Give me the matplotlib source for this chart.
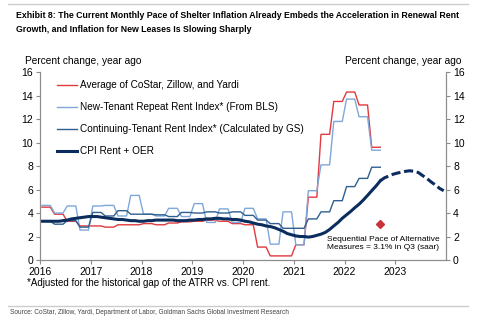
import numpy as np
import pandas as pd
import matplotlib
matplotlib.use("Agg")
import matplotlib.pyplot as plt
import matplotlib.dates as mdates

plt.rcParams['font.family'] = ['Liberation Sans', 'DejaVu Sans']

# quarterly series, 2016Q1 - 2022Q3 (each quarter held for its three months)
costar_zillow_yardi = [4.5, 3.9, 3.3, 2.9,
                       2.9, 2.8, 3.0, 3.0,
                       3.1, 3.0, 3.15, 3.25,
                       3.3, 3.4, 3.3, 3.1,
                       3.0, 1.1, 0.35, 0.35,
                       1.3, 5.35, 10.7, 13.5,
                       14.3, 13.2, 9.6]
new_tenant = [4.65, 4.0, 4.6, 2.55,
              4.6, 4.65, 3.75, 5.5,
              3.9, 3.75, 4.4, 3.7,
              4.8, 3.2, 4.35, 3.2,
              4.4, 3.5, 1.35, 4.1,
              1.3, 5.9, 8.1, 11.8,
              13.7, 12.2, 9.35]
continuing_tenant = [3.3, 3.05, 3.35, 2.8,
                     4.05, 3.75, 4.2, 3.9,
                     3.9, 3.85, 3.7, 4.05,
                     4.0, 4.1, 4.0, 4.1,
                     3.8, 3.4, 3.1, 2.7,
                     2.7, 3.5, 4.1, 5.05,
                     6.25, 6.95, 7.9]

# monthly CPI rent + OER, Jan 2016 - Sep 2022
cpi_rent_oer = [3.3, 3.3, 3.3, 3.3, 3.3, 3.35, 3.4, 3.5, 3.55, 3.6, 3.65, 3.7,
                3.7, 3.7, 3.65, 3.6, 3.55, 3.5, 3.45, 3.45, 3.4, 3.35, 3.35, 3.3,
                3.3, 3.35, 3.35, 3.4, 3.4, 3.4, 3.4, 3.4, 3.35, 3.35, 3.35, 3.4,
                3.4, 3.45, 3.45, 3.5, 3.5, 3.55, 3.55, 3.5, 3.5, 3.45, 3.45, 3.4,
                3.3, 3.25, 3.15, 3.05, 3.0, 2.9, 2.85, 2.75, 2.6, 2.45, 2.25, 2.15,
                2.05, 2.0, 2.0, 1.95, 2.0, 2.1, 2.2, 2.35, 2.6, 2.9, 3.2, 3.55,
                3.85, 4.15, 4.45, 4.75, 5.1, 5.5, 5.9, 6.3, 6.75]
# GS forecast, Sep 2022 - Dec 2023
cpi_forecast = [6.75, 7.0, 7.15, 7.3, 7.4, 7.48, 7.55, 7.6, 7.55, 7.45,
                7.2, 6.95, 6.65, 6.4, 6.1, 5.9]
alt_q3 = 3.1

months = pd.date_range('2016-01-01', periods=len(cpi_rent_oer), freq='MS') + pd.Timedelta(days=14)
fc_months = pd.date_range('2022-09-01', periods=len(cpi_forecast), freq='MS') + pd.Timedelta(days=14)

fig = plt.figure(figsize=(4.8, 3.24), dpi=100)
ax = fig.add_axes([0.0833, 0.1975, 0.846, 0.580])

ax.plot(months, np.repeat(costar_zillow_yardi, 3), color='#e0393e', lw=1.0,
        label='Average of CoStar, Zillow, and Yardi')
ax.plot(months, np.repeat(new_tenant, 3), color='#7fa7d9', lw=1.0,
        label='New-Tenant Repeat Rent Index* (From BLS)')
ax.plot(months, np.repeat(continuing_tenant, 3), color='#2f5f8f', lw=1.0,
        label='Continuing-Tenant Rent Index* (Calculated by GS)')
ax.plot(months, cpi_rent_oer, color='#0b2d5e', lw=2.2, label='CPI Rent + OER')
ax.plot(fc_months, cpi_forecast, color='#0b2d5e', lw=2.2, ls=(0, (3.0, 1.2)))
ax.plot([pd.Timestamp('2022-09-15')], [alt_q3], marker='D', color='#c8333a',
        ms=4.5, ls='none')

ax.text(pd.Timestamp('2021-08-25'), 2.05,
        'Sequential Pace of Alternative\nMeasures = 3.1% in Q3 (saar)',
        fontsize=6.0, va='top', ha='left', linespacing=1.15)

ax.set_xlim(pd.Timestamp('2016-01-01'), pd.Timestamp('2024-01-01'))
ax.set_ylim(0, 16)
ax.set_yticks(range(0, 17, 2))
ax.set_xticks([pd.Timestamp(f'{y}-01-01') for y in range(2016, 2024)])
ax.xaxis.set_major_formatter(mdates.DateFormatter('%Y'))

ax2 = ax.twinx()
ax2.set_ylim(0, 16)
ax2.set_yticks(range(0, 17, 2))

for a in (ax, ax2):
    a.spines['top'].set_visible(False)
    for s in ('left', 'right', 'bottom'):
        a.spines[s].set_color('#8c8c8c')
        a.spines[s].set_linewidth(0.8)
    a.tick_params(axis='both', labelsize=7.5, color='#8c8c8c', length=3, width=0.8, pad=2)

ax.legend(loc='upper left', bbox_to_anchor=(0.025, 0.995), frameon=False, fontsize=7.2,
          handlelength=2.0, handletextpad=0.25, labelspacing=1.2, borderaxespad=0.3)

fig.text(0.052, 0.812, 'Percent change, year ago', fontsize=7.3, ha='left', va='center')
fig.text(0.962, 0.812, 'Percent change, year ago', fontsize=7.3, ha='right', va='center')

fig.text(0.033, 0.967, 'Exhibit 8: The Current Monthly Pace of Shelter Inflation Already Embeds the '
         'Acceleration in Renewal Rent\nGrowth, and Inflation for New Leases Is Slowing Sharply',
         fontsize=6.3, fontweight='bold', ha='left', va='top', linespacing=1.75)
fig.text(0.056, 0.127, '*Adjusted for the historical gap of the ATRR vs. CPI rent.',
         fontsize=7, ha='left', va='center')
fig.text(0.02, 0.034, 'Source: CoStar, Zillow, Yardi, Department of Labor, Goldman Sachs Global '
         'Investment Research', fontsize=4.7, ha='left', va='center', color='#444444')

fig.add_artist(plt.Line2D([0.017, 0.975], [0.988, 0.988], color='#cccccc', lw=1.0))
fig.add_artist(plt.Line2D([0.017, 0.975], [0.056, 0.056], color='#cccccc', lw=1.0))

fig.savefig('out.png', dpi=100)
